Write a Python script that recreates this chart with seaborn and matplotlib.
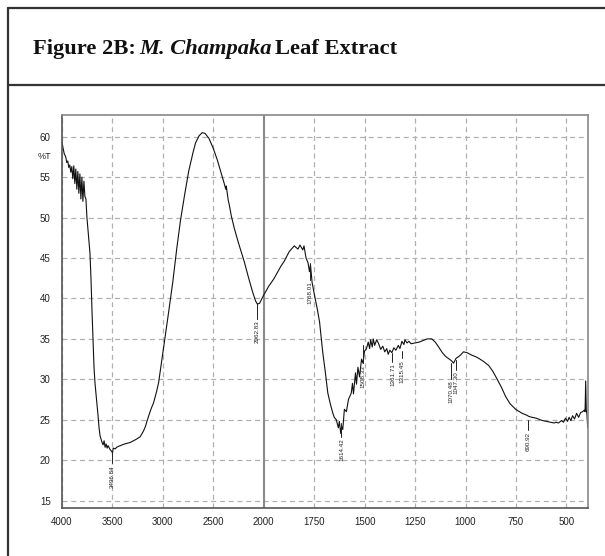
import numpy as np
import pandas as pd
import matplotlib
matplotlib.use("Agg")
import matplotlib.pyplot as plt
import seaborn as sns
from matplotlib.lines import Line2D

# ---------------- data ----------------
wavenumber = [
    4000, 3990, 3975, 3960, 3950, 3940, 3930, 3920, 3910, 3900, 3890, 3880, 3870, 3860,
    3850, 3840, 3830, 3820, 3810, 3800, 3790, 3780, 3770, 3760, 3750, 3740, 3730, 3720,
    3710, 3700, 3690, 3680, 3670, 3655, 3640, 3630, 3620, 3610, 3600, 3590, 3580, 3570,
    3560, 3550, 3540, 3520, 3505, 3497, 3490, 3470, 3455, 3440, 3420, 3400, 3380, 3350,
    3320, 3290, 3260, 3223, 3190, 3170, 3156, 3130, 3110, 3090, 3060, 3040, 3000, 2941,
    2900, 2860, 2824, 2780, 2741, 2700, 2675, 2640, 2608, 2580, 2542, 2500, 2458, 2420,
    2390, 2375, 2370, 2360, 2350, 2342, 2320, 2292, 2250, 2193, 2150, 2109, 2080, 2062,
    2040, 2020, 2000, 1975, 1950, 1914, 1898, 1873, 1848, 1830, 1820, 1806, 1800, 1790,
    1780, 1773, 1768, 1760, 1748, 1735, 1723, 1707, 1695, 1682, 1670, 1657, 1650, 1640,
    1630, 1625, 1618, 1614, 1608, 1600, 1590, 1580, 1566, 1560, 1555, 1545, 1540, 1533,
    1525, 1515, 1508, 1500, 1491, 1482, 1475, 1470, 1462, 1457, 1450, 1440, 1432, 1420,
    1410, 1400, 1390, 1383, 1375, 1365, 1355, 1345, 1333, 1325, 1315, 1305, 1300, 1290,
    1280, 1270, 1250, 1230, 1210, 1190, 1167, 1150, 1133, 1115, 1101, 1092, 1080, 1070,
    1059, 1047, 1035, 1025, 1010, 993, 970, 950, 935, 910, 885, 865, 843, 820,
    802, 780, 752, 720, 700, 685, 670, 650, 630, 618, 600, 580, 560, 552,
    540, 525, 515, 505, 495, 487, 478, 470, 460, 450, 440, 430, 420, 412,
    408, 405, 402, 399, 395,
]
transmittance = [
    59.6, 58.8, 57.9, 57.5, 56.8, 57.0, 56.2, 56.5, 55.6, 56.3, 54.8, 56.4, 54.2, 56.0,
    53.5, 55.7, 53.0, 55.4, 52.3, 55.0, 52.0, 54.5, 52.6, 52.3, 50.0, 48.5, 47.0, 45.6,
    42.5, 38.5, 35.0, 31.5, 29.5, 27.5, 25.5, 24.0, 23.0, 22.6, 22.2, 21.9, 22.4, 21.6,
    22.0, 21.5, 21.8, 21.3, 21.1, 20.9, 21.5, 21.4, 21.6, 21.7, 21.8, 21.9, 22.0, 22.1,
    22.2, 22.4, 22.6, 22.9, 23.6, 24.2, 24.8, 25.8, 26.5, 27.1, 28.5, 29.6, 33.1, 38.3,
    42.0, 46.2, 49.6, 53.0, 55.8, 58.0, 59.2, 60.1, 60.5, 60.4, 59.8, 58.6, 57.1, 55.5,
    54.2, 53.5, 53.9, 53.0, 52.1, 51.7, 50.2, 48.75, 46.9, 44.6, 42.6, 40.8, 39.7, 39.3,
    39.4, 39.9, 40.4, 41.5, 42.4, 44.0, 44.6, 45.8, 46.5, 46.1, 46.6, 46.0, 46.5, 45.0,
    44.4, 43.3, 44.2, 42.0, 40.4, 38.8, 37.1, 33.3, 31.0, 28.3, 27.0, 25.8, 25.3, 25.0,
    24.0, 24.8, 23.3, 24.2, 23.8, 26.3, 26.0, 27.5, 28.3, 29.5, 28.2, 30.8, 29.4, 31.5,
    30.3, 32.5, 32.0, 33.5, 33.75, 34.6, 33.8, 34.9, 34.0, 35.0, 34.2, 34.9, 34.5, 33.7,
    34.1, 33.4, 33.8, 33.1, 33.6, 33.3, 33.9, 33.6, 34.2, 33.8, 34.7, 34.3, 34.9, 34.5,
    34.7, 34.4, 34.5, 34.6, 34.8, 35.0, 35.0, 34.6, 34.0, 33.3, 32.9, 32.7, 32.5, 32.3,
    32.0, 32.6, 32.8, 33.0, 33.4, 33.3, 33.0, 32.8, 32.6, 32.2, 31.7, 31.0, 30.0, 28.9,
    27.9, 27.0, 26.3, 25.8, 25.6, 25.4, 25.3, 25.2, 25.0, 24.9, 24.8, 24.7, 24.6, 24.7,
    24.6, 24.9, 24.7, 25.2, 24.8, 25.3, 24.9, 25.5, 25.1, 25.8, 25.3, 25.9, 26.0, 26.2,
    26.0, 29.8, 26.2, 25.8, 24.0,
]

peak_labels = ["3496.84", "2062.83", "1768.01", "1614.42", "1508.33",
               "1361.71", "1315.45", "1070.48", "1047.30", "690.92"]
peak_x = [3496.84, 2062.83, 1768.01, 1614.42, 1508.33,
          1361.71, 1315.45, 1070.48, 1047.30, 690.92]
peak_line_top = [21.1, 39.4, 44.4, 24.6, 34.2, 33.3, 33.5, 32.0, 32.4, 25.0]
peak_line_bottom = [19.6, 37.5, 42.3, 22.9, 32.0, 32.2, 32.6, 30.1, 31.2, 23.7]

x_major = [4000, 3500, 3000, 2500, 2000, 1750, 1500, 1250, 1000, 750, 500]
y_major = [15, 20, 25, 30, 35, 40, 45, 50, 55, 60]

df = pd.DataFrame({"wn": wavenumber, "T": transmittance})

# ---------------- style ----------------
sns.set_style("white")
tick_font = ["Liberation Sans Narrow", "Liberation Sans", "DejaVu Sans"]
plt.rcParams["font.family"] = tick_font

W, H = 605, 556
fig = plt.figure(figsize=(W / 100, H / 100), dpi=100)

# outer frame lines (figure pixel coords)
def fline(x0, y0, x1, y1, lw=1.6, color="#333333"):
    fig.add_artist(Line2D([x0 / W, x1 / W], [1 - y0 / H, 1 - y1 / H],
                          transform=fig.transFigure, lw=lw, color=color))

fline(8, 8, W + 5, 8)
fline(8, 8, 8, H + 5)
fline(8, 85, W + 5, 85)

# title
renderer = fig.canvas.get_renderer()
pieces = [("Figure 2B:", "normal"), ("M. Champaka", "italic"), ("Leaf Extract", "normal")]
gaps = [3, 4, 0]
xpix = 33
for (s, st), g in zip(pieces, gaps):
    t = fig.text(xpix / W, 1 - 54.5 / H, s, fontsize=16.2, fontweight="bold", fontstyle=st,
                 family=["Liberation Serif", "DejaVu Serif"], va="baseline", ha="left",
                 color="#111111")
    bb = t.get_window_extent(renderer)
    xpix += bb.width + g

# axes
left, right, top, bottom = 61.7, 588.3, 115, 507.7
ax = fig.add_axes([left / W, 1 - bottom / H, (right - left) / W, (bottom - top) / H])

def fwd(x):
    x = np.asarray(x, dtype=float)
    return np.where(x >= 2000, (x - 2000) / 500.0, (x - 2000) / 250.0)

def inv(y):
    y = np.asarray(y, dtype=float)
    return np.where(y >= 0, 2000 + 500.0 * y, 2000 + 250.0 * y)

ax.set_xscale("function", functions=(fwd, inv))

sns.lineplot(data=df, x="wn", y="T", ax=ax, color="#111111", lw=0.8, sort=False,
             estimator=None)

ax.set_xlim(4000, 392)
ax.set_ylim(14.13, 62.68)

minor_x = list(range(3900, 2000, -100)) + list(range(1950, 400, -50))
minor_x = [m for m in minor_x if m not in x_major]
ax.set_xticks(x_major)
ax.set_xticklabels([str(v) for v in x_major])
ax.set_xticks(minor_x, minor=True)
ax.set_yticks(y_major)
ax.set_yticklabels([str(v) for v in y_major])
ax.set_yticks(np.arange(15, 63, 1), minor=True)

ax.tick_params(axis="both", which="major", length=5, width=0.9, color="#555555",
               labelsize=7, labelcolor="#222222", direction="out")
ax.tick_params(axis="both", which="minor", length=3, width=0.8, color="#555555",
               direction="out")
ax.tick_params(axis="x", pad=2)
ax.tick_params(axis="y", pad=3)

for sp in ax.spines.values():
    sp.set_color("#888888")
    sp.set_linewidth(1.2)
ax.spines["bottom"].set_color("#555555")
ax.spines["left"].set_color("#555555")

ax.grid(False)
for xv in x_major:
    if xv == 2000:
        continue
    ax.axvline(xv, color="#b0b0b0", lw=0.9, ls=(0, (4, 3)), zorder=0)
for yv in y_major:
    ax.axhline(yv, color="#b0b0b0", lw=0.9, ls=(0, (4, 3)), zorder=0)
ax.axvline(2000, color="#8a8a8a", lw=1.5, zorder=1)

ax.set_xlabel("")
ax.set_ylabel("")

# %T label
ax.text(-0.032, 57.6, "%T", transform=ax.get_yaxis_transform(), ha="center",
        va="center", fontsize=6.5, color="#222222")

# peak annotations
for lab, px, yt, yb in zip(peak_labels, peak_x, peak_line_top, peak_line_bottom):
    ax.plot([px, px], [yt, yb], color="#222222", lw=0.7)
    ax.text(px, yb - 0.2, lab, rotation=90, ha="center", va="top", fontsize=4.5,
            color="#222222")

fig.savefig("out.png", dpi=100)
